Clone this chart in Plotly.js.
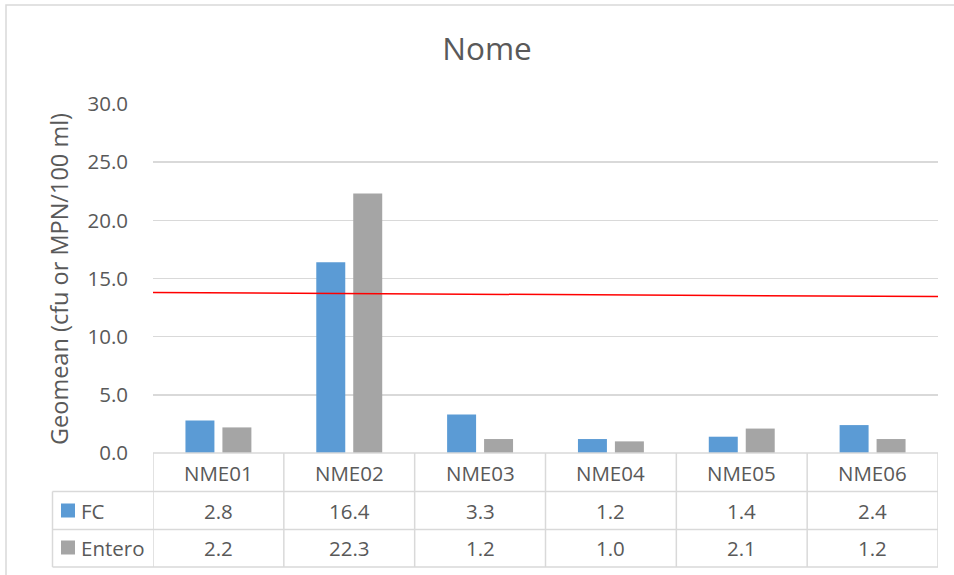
<!DOCTYPE html>
<html>
<head>
<meta charset="utf-8">
<script src="https://cdn.plot.ly/plotly-3.0.1.min.js"></script>
<style>html,body{margin:0;padding:0;background:#fff;}#chart{width:954px;height:575px;}</style>
</head>
<body>
<div id="chart"></div>
<script>
const categories = ["NME01", "NME02", "NME03", "NME04", "NME05", "NME06"];
const fcValues = [2.8, 16.4, 3.3, 1.2, 1.4, 2.4];
const enteroValues = [2.2, 22.3, 1.2, 1.0, 2.1, 1.2];
const seriesNames = ["FC", "Entero"];
const thresholdX = [0, 1];
const thresholdY = [13.79, 13.45];
const yTicks = [0, 5, 10, 15, 20, 25, 30];

const FONT = "'Open Sans', sans-serif";
const TXT = "#595959";
const GRID = "#D9D9D9";
const BLUE = "#5B9BD5";
const GRAY = "#A5A5A5";
const TSIZE = 20.5;

// pixel helpers (plot area: x 153..938, y 104..453)
const L = 153, R = 938, T = 104, B = 453;
const W = R - L, H = B - T;
const px = v => (v - L) / W;
const py = v => (B - v) / H;

const traces = [
  {type: "bar", name: seriesNames[0], x: categories, y: fcValues, marker: {color: BLUE}, hoverinfo: "none"},
  {type: "bar", name: seriesNames[1], x: categories, y: enteroValues, marker: {color: GRAY}, hoverinfo: "none"},
  {type: "scatter", mode: "lines", x: thresholdX, y: thresholdY, xaxis: "x2", yaxis: "y",
   line: {color: "#FF0000", width: 1.5}, showlegend: false, hoverinfo: "none"}
];

const annotations = [];
const shapes = [];

// table text rows
const rowY = [py(472.5), py(510.5), py(548)];
categories.forEach((c, i) => {
  annotations.push({xref: "x", yref: "paper", x: c, y: rowY[0], text: c, showarrow: false,
    xanchor: "center", yanchor: "middle", font: {family: FONT, size: TSIZE, color: TXT}});
  annotations.push({xref: "x", yref: "paper", x: c, y: rowY[1], text: fcValues[i].toFixed(1), showarrow: false,
    xanchor: "center", yanchor: "middle", font: {family: FONT, size: TSIZE, color: TXT}});
  annotations.push({xref: "x", yref: "paper", x: c, y: rowY[2], text: enteroValues[i].toFixed(1), showarrow: false,
    xanchor: "center", yanchor: "middle", font: {family: FONT, size: TSIZE, color: TXT}});
});
// legend keys in table
annotations.push({xref: "paper", yref: "paper", x: px(79), y: rowY[1], text: seriesNames[0], showarrow: false,
  xanchor: "left", yanchor: "middle", font: {family: FONT, size: TSIZE, color: TXT}});
annotations.push({xref: "paper", yref: "paper", x: px(79), y: rowY[2], text: seriesNames[1], showarrow: false,
  xanchor: "left", yanchor: "middle", font: {family: FONT, size: TSIZE, color: TXT}});
shapes.push({type: "rect", xref: "paper", yref: "paper", x0: px(61), x1: px(75), y0: py(503.5), y1: py(517.5),
  fillcolor: BLUE, line: {width: 0}});
shapes.push({type: "rect", xref: "paper", yref: "paper", x0: px(61), x1: px(75), y0: py(540.5), y1: py(554.5),
  fillcolor: GRAY, line: {width: 0}});

// y-axis title
annotations.push({xref: "paper", yref: "paper", x: px(59), y: py(279), text: "Geomean (cfu or MPN/100 ml)",
  textangle: -90, showarrow: false, xanchor: "center", yanchor: "middle",
  font: {family: FONT, size: 23.5, color: TXT}});

// table grid lines
const lineStyle = {color: GRID, width: 1.5};
shapes.push({type: "line", xref: "paper", yref: "paper", x0: 0, x1: 1, y0: 0, y1: 0, line: lineStyle});
[491.5, 529.5, 567].forEach(v => shapes.push({type: "line", xref: "paper", yref: "paper",
  x0: px(52.5), x1: 1, y0: py(v), y1: py(v), line: lineStyle}));
shapes.push({type: "line", xref: "paper", yref: "paper", x0: px(52.5), x1: px(52.5), y0: py(491.5), y1: py(567), line: lineStyle});
for (let i = 0; i <= categories.length; i++) {
  shapes.push({type: "line", xref: "x", yref: "paper", x0: i - 0.5, x1: i - 0.5, y0: 0, y1: py(567), line: lineStyle});
}
// chart outer border
shapes.push({type: "rect", xref: "paper", yref: "paper", x0: px(6), x1: px(990), y0: py(5), y1: py(600),
  line: {color: GRID, width: 1.5}, fillcolor: "rgba(0,0,0,0)"});

const layout = {
  width: 954, height: 575,
  margin: {l: L, r: 954 - R, t: T, b: 575 - B, pad: 0},
  paper_bgcolor: "#fff", plot_bgcolor: "#fff",
  title: {text: "Nome", x: 487 / 954, xanchor: "center", y: 1 - 49/575, yanchor: "middle",
    font: {family: FONT, size: 31.5, color: TXT}},
  showlegend: false,
  barmode: "group", bargap: 0.435, bargroupgap: 0.216,
  xaxis: {type: "category", range: [-0.5, 5.5], showticklabels: false, showgrid: false, zeroline: false,
    showline: false, ticks: "", fixedrange: true},
  xaxis2: {overlaying: "x", range: [0, 1], visible: false, fixedrange: true},
  yaxis: {range: [0, 30], tickvals: yTicks, tickformat: ".1f", showgrid: true, gridcolor: GRID, gridwidth: 1.5,
    zeroline: false, showline: false, ticks: "", ticklabelstandoff: 24,
    tickfont: {family: FONT, size: TSIZE, color: TXT}, fixedrange: true},
  annotations: annotations,
  shapes: shapes
};

Plotly.newPlot("chart", traces, layout, {displayModeBar: false, staticPlot: true});
</script>
</body>
</html>
